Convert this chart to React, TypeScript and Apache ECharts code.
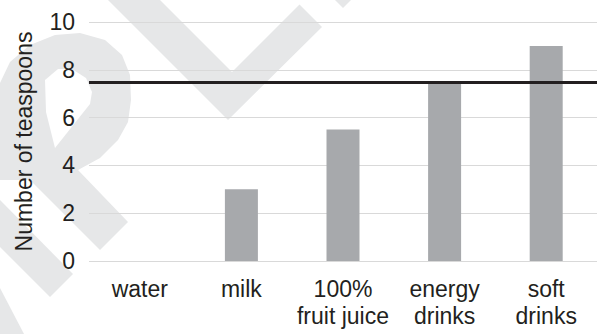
import React, { useEffect, useRef } from "react";
import * as echarts from "echarts";

// Teaspoons of sugar per drink
const categories = ["water", "milk", "100%\nfruit juice", "energy\ndrinks", "soft\ndrinks"];
const teaspoons = [0, 3, 5.5, 7.5, 9];
const referenceLevel = 7.5;
const yTicks = { min: 0, max: 10, interval: 2 };

const TEXT = "#231f20";
const FONT = "'Liberation Sans', Arial, sans-serif";
const MARK = "#e6e7e8";

// Light background lettering behind the plot
const bgShapes: number[][][] = [
  // rounded letter body
  [
    [0, 180], [0, 83], [10, 62], [30, 45], [55, 35], [80, 33], [105, 40], [122, 55],
    [130, 75], [131, 100], [128, 122], [118, 140], [100, 158], [78, 170],
    [128, 222], [100, 250], [30, 180],
  ],
  // diagonal strokes
  [[0, 200], [73, 274], [50, 297], [0, 247]],
  [[0, 288], [24, 334], [0, 334]],
  [[108, 0], [160, 0], [232, 72], [299.5, 4.5], [322, 27], [228, 120]],
  [[335, 0], [351, 0], [343, 8]],
];
const bgHole: number[][] = [
  [45, 80], [58, 69], [72, 69], [86, 78], [92, 92], [90, 104], [55, 148], [46, 112],
];

export default function App() {
  const ref = useRef<HTMLDivElement>(null);

  useEffect(() => {
    if (!ref.current) return;
    const chart = echarts.init(ref.current, undefined, { renderer: "svg" });

    const graphics: any[] = bgShapes.map((pts) => ({
      type: "polygon",
      z: -10,
      silent: true,
      shape: { points: pts },
      style: { fill: MARK },
    }));
    graphics.push({
      type: "polygon",
      z: -9,
      silent: true,
      shape: { points: bgHole },
      style: { fill: "#ffffff" },
    });

    chart.setOption({
      animation: false,
      backgroundColor: "#ffffff",
      graphic: graphics,
      grid: { left: 89, right: -3, top: 22, bottom: 73, containLabel: false },
      xAxis: {
        type: "category",
        data: categories,
        axisLine: { show: false },
        axisTick: { show: false },
        axisLabel: {
          color: TEXT,
          fontFamily: FONT,
          fontSize: 23,
          lineHeight: 27,
          margin: 14,
          interval: 0,
        },
      },
      yAxis: {
        type: "value",
        min: yTicks.min,
        max: yTicks.max,
        interval: yTicks.interval,
        name: "Number of teaspoons",
        nameLocation: "middle",
        nameGap: 54,
        nameTextStyle: { color: TEXT, fontFamily: FONT, fontSize: 23 },
        axisLine: { show: false },
        axisTick: { show: false },
        axisLabel: { color: TEXT, fontFamily: FONT, fontSize: 23, margin: 14 },
        splitLine: { lineStyle: { color: "#d9d9d9", width: 1 } },
      },
      series: [
        {
          type: "bar",
          data: teaspoons,
          barWidth: 33,
          itemStyle: { color: "#a7a9ac" },
          markLine: {
            silent: true,
            symbol: "none",
            label: { show: false },
            lineStyle: { color: TEXT, width: 3, type: "solid" },
            data: [{ yAxis: referenceLevel }],
          },
        },
      ],
    });

    return () => chart.dispose();
  }, []);

  return (
    <div
      ref={ref}
      style={{ position: "fixed", left: 0, top: 0, width: 597, height: 334, background: "#fff" }}
    />
  );
}
